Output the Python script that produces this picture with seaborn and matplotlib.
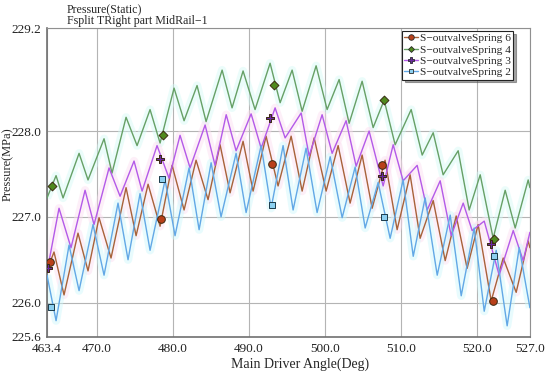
import numpy as np
import pandas as pd
import matplotlib
matplotlib.use("Agg")
import matplotlib.pyplot as plt
from matplotlib.lines import Line2D
import seaborn as sns

# Series (angle in Deg, pressure in MPa)
angle_s6 = [463.40, 464.32, 465.64, 467.48, 468.80, 470.25, 471.83, 473.81, 475.13, 476.71,
            478.29, 479.87, 481.45, 483.03, 484.61, 486.19, 487.51, 489.22, 490.54, 492.25,
            493.83, 495.55, 497.00, 498.58, 500.16, 501.74, 503.32, 504.90, 506.22, 507.92,
            509.51, 511.22, 512.54, 514.26, 515.84, 517.29, 518.73, 520.18, 521.90, 523.48,
            525.19, 526.77, 527.00]
press_s6 = [226.38, 226.59, 226.09, 226.81, 226.37, 226.99, 226.52, 227.34, 226.78, 227.38,
            226.89, 227.60, 227.08, 227.66, 227.20, 227.84, 227.28, 227.88, 227.30, 227.94,
            227.36, 227.94, 227.30, 227.92, 227.30, 227.83, 227.16, 227.72, 227.10, 227.66,
            226.85, 227.49, 226.75, 227.19, 226.49, 227.01, 226.40, 226.91, 226.02, 226.52,
            226.12, 226.72, 226.64]

angle_s4 = [463.40, 464.59, 465.51, 467.62, 468.80, 470.91, 471.96, 473.81, 475.26, 476.97,
            478.29, 480.13, 481.45, 483.16, 484.35, 486.46, 487.77, 489.22, 490.80, 492.78,
            494.10, 495.68, 497.00, 498.84, 500.29, 501.87, 503.19, 504.90, 506.35, 507.80,
            509.25, 511.36, 512.81, 514.26, 515.57, 517.55, 519.00, 520.45, 522.16, 523.74,
            525.06, 526.77, 527.00]
press_s4 = [227.22, 227.48, 227.22, 227.74, 227.43, 227.91, 227.51, 228.16, 227.83, 228.25,
            227.86, 228.50, 228.12, 228.53, 228.11, 228.71, 228.27, 228.70, 228.25, 228.79,
            228.33, 228.71, 228.23, 228.76, 228.25, 228.60, 228.09, 228.58, 228.04, 228.36,
            227.84, 228.25, 227.72, 227.98, 227.49, 227.77, 227.08, 227.49, 226.75, 227.31,
            226.87, 227.43, 227.34]

angle_s3 = [463.40, 464.98, 466.56, 468.41, 469.59, 471.57, 473.02, 474.86, 475.92, 477.89,
            479.47, 480.92, 482.24, 484.22, 485.53, 487.00, 488.30, 490.28, 491.60, 493.44,
            494.76, 496.87, 497.92, 499.63, 500.95, 502.79, 504.11, 505.82, 507.67, 508.99,
            510.30, 512.15, 513.47, 515.18, 516.63, 518.21, 519.39, 520.98, 522.95, 524.80,
            526.11, 527.00]
press_s3 = [226.36, 227.10, 226.64, 227.31, 226.91, 227.57, 227.24, 227.65, 227.30, 227.83,
            227.45, 227.95, 227.57, 228.07, 227.60, 228.19, 227.77, 228.20, 227.80, 228.27,
            227.92, 228.21, 227.71, 228.19, 227.74, 228.12, 227.59, 228.00, 227.36, 227.84,
            227.42, 227.60, 227.08, 227.42, 226.78, 227.16, 226.84, 226.95, 226.32, 226.84,
            226.49, 226.82]

angle_s2 = [463.40, 464.59, 466.30, 467.62, 469.46, 470.91, 472.75, 474.07, 475.65, 476.97,
            478.95, 480.26, 482.11, 483.43, 485.01, 486.32, 488.30, 489.62, 491.60, 492.91,
            494.49, 495.81, 497.52, 498.97, 500.69, 502.27, 503.98, 505.30, 507.01, 508.59,
            510.30, 511.63, 513.20, 514.79, 516.50, 517.95, 519.66, 520.98, 522.56, 524.00,
            525.59, 527.00]
press_s2 = [226.32, 225.79, 226.67, 226.14, 226.91, 226.32, 227.16, 226.50, 227.27, 226.61,
            227.43, 226.78, 227.57, 226.85, 227.63, 227.00, 227.74, 227.05, 227.83, 227.10,
            227.83, 227.08, 227.80, 227.05, 227.70, 226.99, 227.58, 226.87, 227.40, 226.75,
            227.43, 226.54, 227.22, 226.32, 227.02, 226.08, 226.87, 225.90, 226.61, 225.73,
            226.64, 225.94]

# Marker symbols along each curve
mark_angle_s6 = [463.80, 478.42, 493.04, 507.54, 522.16]
mark_press_s6 = [226.47, 226.98, 227.62, 227.60, 226.02]
mark_angle_s4 = [464.06, 478.68, 493.31, 507.80, 522.29]
mark_press_s4 = [227.36, 227.95, 228.54, 228.36, 226.74]
mark_angle_s3 = [463.53, 478.29, 492.78, 507.54, 521.90]
mark_press_s3 = [226.40, 227.67, 228.15, 227.48, 226.68]
mark_angle_s2 = [463.93, 478.55, 493.04, 507.80, 522.29]
mark_press_s2 = [225.95, 227.44, 227.14, 227.00, 226.54]

x_ticks = [463.4, 470.0, 480.0, 490.0, 500.0, 510.0, 520.0, 527.0]
y_ticks = [225.6, 226.0, 227.0, 228.0, 229.2]

series = [
    ("S\u2212outvalveSpring 6", angle_s6, press_s6, mark_angle_s6, mark_press_s6,
     "#a8623a", "o", "#b8401a", 5.5, "#fcdcf0"),
    ("S\u2212outvalveSpring 4", angle_s4, press_s4, mark_angle_s4, mark_press_s4,
     "#66a066", "D", "#4f8a1e", 4.5, "#d4faf6"),
    ("S\u2212outvalveSpring 3", angle_s3, press_s3, mark_angle_s3, mark_press_s3,
     "#b45ae8", "P", "#6a2aa0", 6.0, "#fcdcf0"),
    ("S\u2212outvalveSpring 2", angle_s2, press_s2, mark_angle_s2, mark_press_s2,
     "#62a8e6", "s", "#8cd0f0", 4.0, "#ccf8fb"),
]

sns.set_style("white")
plt.rcParams["font.family"] = ["Liberation Serif", "DejaVu Serif"]

fig = plt.figure(figsize=(5.5, 3.74), dpi=100, facecolor="white")
ax = fig.add_axes([0.0855, 0.099, 0.878, 0.826])

# soft halo behind the curves
for label, xs, ys, mx, my, col, mk, mcol, ms, halo in series:
    ax.plot(xs, ys, color=halo, linewidth=6, alpha=0.45, zorder=1, solid_capstyle="butt")

handles = []
for label, xs, ys, mx, my, col, mk, mcol, ms, halo in series:
    df = pd.DataFrame({"angle": xs, "pressure": ys})
    sns.lineplot(data=df, x="angle", y="pressure", color=col, linewidth=1.0,
                 sort=False, ax=ax, zorder=3)
    mdf = pd.DataFrame({"angle": mx, "pressure": my})
    ax.scatter(mdf["angle"], mdf["pressure"], marker=mk, s=ms ** 2, color=mcol,
               edgecolor="#1a3a4a" if mk == "s" else "#3a2a10", linewidth=0.7, zorder=4)
    handles.append(Line2D([0], [0], color=col, linewidth=1.0, marker=mk, markersize=ms - 1.5,
                          markerfacecolor=mcol, markeredgecolor="#2a2a2a", markeredgewidth=0.6,
                          label=label))

ax.set_xlim(463.4, 527.0)
ax.set_ylim(225.6, 229.2)
ax.set_xticks(x_ticks)
ax.set_xticklabels([f"{v:.1f}" for v in x_ticks])
ax.set_yticks(y_ticks)
ax.set_yticklabels([f"{v:.1f}" for v in y_ticks])
ax.tick_params(axis="both", length=0, labelsize=9.5, pad=4, colors="#222222")
ax.grid(True, color="#b4b4b4", linewidth=0.8)
for side in ["left", "bottom"]:
    ax.spines[side].set_color("#707070")
    ax.spines[side].set_linewidth(1.2)
for side in ["top", "right"]:
    ax.spines[side].set_color("#909090")
    ax.spines[side].set_linewidth(0.8)

ax.set_xlabel("Main Driver Angle(Deg)", fontsize=10, labelpad=2)
ax.xaxis.set_label_coords(0.525, -0.065)
ax.set_ylabel("Pressure(MPa)", fontsize=9)
ax.yaxis.set_label_coords(-0.069, 0.56)

fig.text(0.122, 0.927, "Pressure(Static)\nFsplit TRight part MidRail\u22121",
         fontsize=8.6, va="bottom", ha="left", linespacing=0.92)

leg = ax.legend(handles=handles, loc="upper right", bbox_to_anchor=(0.965, 0.99),
                fontsize=8.2, frameon=True, fancybox=False, shadow=True,
                handlelength=1.2, handletextpad=0.15, borderpad=0.2, labelspacing=0.12,
                borderaxespad=0.0)
leg.get_frame().set_edgecolor("#222222")
leg.get_frame().set_linewidth(0.8)

fig.savefig("out.png", dpi=100, facecolor="white")
